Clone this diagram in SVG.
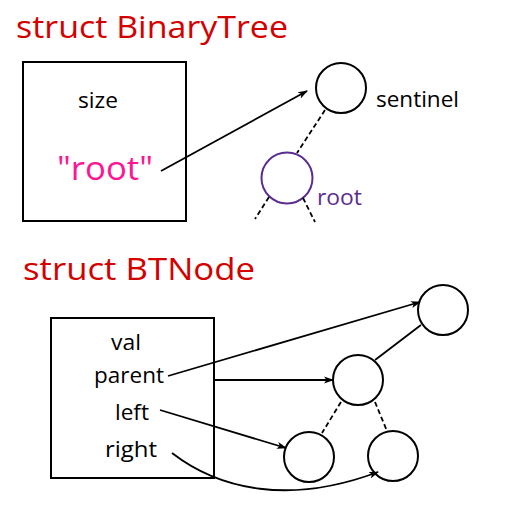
<svg xmlns="http://www.w3.org/2000/svg" width="512" height="512" viewBox="0 0 512 512">
<defs>
<style>
text{font-family:"Open Sans","Noto Sans","Liberation Sans",sans-serif;}
.title{font-size:31px;fill:#d40000;}
.lbl{font-size:21px;fill:#000;}
.box{fill:#fff;stroke:#000;stroke-width:2;}
.node{fill:#fff;stroke:#000;stroke-width:2;}
.edge{fill:none;stroke:#000;stroke-width:1.8;}
.dash{fill:none;stroke:#000;stroke-width:1.8;stroke-dasharray:5,3;}
</style>
<marker id="arr" viewBox="0 0 10 10" refX="9" refY="5" markerWidth="10" markerHeight="10" markerUnits="userSpaceOnUse" orient="auto">
<path d="M0,1.5 L10,5 L0,8.5 L2.5,5 Z" fill="#000"/>
</marker>
</defs>
<rect width="512" height="512" fill="#fff"/>
<text class="title" x="16" y="38" textLength="272" lengthAdjust="spacingAndGlyphs">struct BinaryTree</text>
<g id="binarytree">
<rect class="box" x="23" y="62" width="163" height="159"/>
<text class="lbl" x="78" y="108" textLength="40" lengthAdjust="spacingAndGlyphs">size</text>
<text x="57" y="180" textLength="96" lengthAdjust="spacingAndGlyphs" style="font-size:32px;fill:#ff1493;">"root"</text>
</g>
<g id="sentinel">
<circle class="node" cx="341" cy="88" r="25"/>
<text class="lbl" x="376" y="107" textLength="83" lengthAdjust="spacingAndGlyphs">sentinel</text>
</g>
<g id="root">
<circle cx="287" cy="178" r="25.5" fill="#fff" stroke="#5b2d90" stroke-width="2"/>
<text x="317" y="205" textLength="45" lengthAdjust="spacingAndGlyphs" style="font-size:21px;fill:#5b2d90;">root</text>
</g>
<text class="title" x="23" y="280" textLength="232" lengthAdjust="spacingAndGlyphs">struct BTNode</text>
<g id="btnode">
<rect class="box" x="51" y="318" width="163" height="160"/>
<text class="lbl" x="111" y="350" textLength="30" lengthAdjust="spacingAndGlyphs">val</text>
<text class="lbl" x="94" y="383" textLength="70" lengthAdjust="spacingAndGlyphs">parent</text>
<text class="lbl" x="115" y="420" textLength="34" lengthAdjust="spacingAndGlyphs">left</text>
<text class="lbl" x="105" y="457" textLength="52" lengthAdjust="spacingAndGlyphs">right</text>
</g>
<g id="n-parent"><circle class="node" cx="443" cy="310" r="25"/></g>
<g id="n-self"><circle class="node" cx="358" cy="380" r="25"/></g>
<g id="n-left"><circle class="node" cx="309" cy="457" r="25"/></g>
<g id="n-right"><circle class="node" cx="393" cy="456" r="25"/></g>
<g id="connectors">
<line class="edge" x1="161" y1="171" x2="307" y2="91" marker-end="url(#arr)"/>
<line class="dash" x1="325" y1="110" x2="297" y2="153"/>
<line class="dash" x1="269" y1="197" x2="255" y2="219"/>
<line class="dash" x1="303" y1="198" x2="315" y2="222"/>
<line class="edge" x1="168" y1="376" x2="420" y2="302" marker-end="url(#arr)"/>
<line class="edge" x1="214" y1="380" x2="333" y2="380" marker-end="url(#arr)"/>
<line class="edge" x1="160" y1="410" x2="286" y2="448" marker-end="url(#arr)"/>
<path class="edge" d="M172,453 C220,490 290,505 378,472" marker-end="url(#arr)"/>
<line class="edge" x1="375" y1="360" x2="421" y2="325"/>
<line class="dash" x1="341" y1="402" x2="322" y2="433"/>
<line class="dash" x1="375" y1="402" x2="387" y2="431"/>
</g>
</svg>
